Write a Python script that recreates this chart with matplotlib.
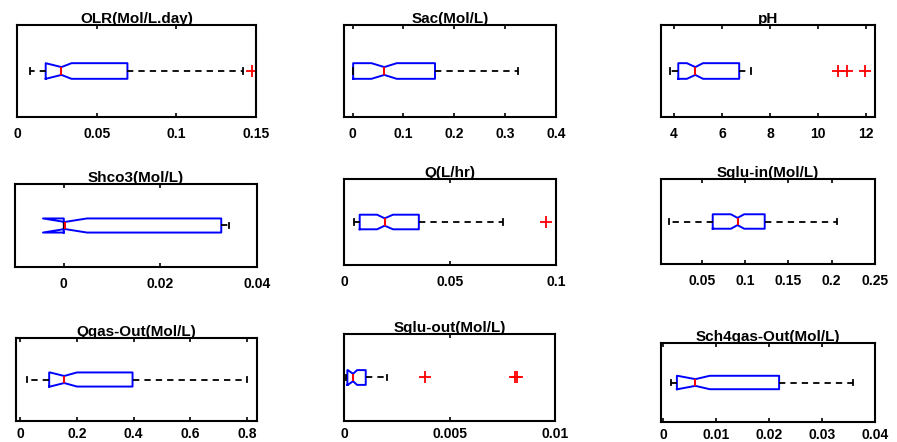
import numpy as np
import matplotlib
matplotlib.use("Agg")
from matplotlib import pyplot as plt

plt.rcParams["font.family"] = ["Liberation Sans", "DejaVu Sans"]
plt.rcParams["font.weight"] = "bold"

# panel titles
titles = ["OLR(Mol/L.day)", "Sac(Mol/L)", "pH",
          "Shco3(Mol/L)", "Q(L/hr)", "Sglu-in(Mol/L)",
          "Qgas-Out(Mol/L)", "Sglu-out(Mol/L)", "Sch4gas-Out(Mol/L)"]

# box statistics
whislo = [0.008, 0.0,   3.83, 0.0,     0.0047, 0.0125, 0.0235, 0.00008, 0.0014]
q1     = [0.018, 0.001, 4.18, 0.0,     0.0074, 0.0627, 0.102,  0.00016, 0.0026]
cilo   = [0.018, 0.037, 4.54, -0.0043, 0.0156, 0.0837, 0.105,  0.00018, 0.0027]
med    = [0.0279, 0.0623, 4.89, 0.0002, 0.0192, 0.0913, 0.155, 0.00043, 0.0061]
cihi   = [0.0342, 0.0866, 5.21, 0.0048, 0.0231, 0.099,  0.2,   0.00062, 0.0088]
q3     = [0.0693, 0.162, 6.72, 0.0326, 0.0353, 0.1227, 0.396,  0.00103, 0.0219]
whishi = [0.142, 0.326,  7.23, 0.0341, 0.0751, 0.206,  0.798,  0.00204, 0.0359]
fliers = [[0.1477], [], [10.83, 11.2, 11.97], [], [0.0951], [], [],
          [0.00385, 0.0081, 0.0082], []]

# axis ranges and ticks
xlims = [(0, 0.15), (-0.017, 0.4), (3.46, 12.38),
         (-0.0101, 0.04), (0, 0.1), (0.003, 0.25),
         (-0.015, 0.835), (0, 0.01), (-0.0004, 0.04)]
xticks = [[0, 0.05, 0.1, 0.15], [0, 0.1, 0.2, 0.3, 0.4], [4, 6, 8, 10, 12],
          [0, 0.02, 0.04], [0, 0.05, 0.1], [0.05, 0.1, 0.15, 0.2, 0.25],
          [0, 0.2, 0.4, 0.6, 0.8], [0, 0.005, 0.01], [0, 0.01, 0.02, 0.03, 0.04]]
xticklabels = [["0", "0.05", "0.1", "0.15"], ["0", "0.1", "0.2", "0.3", "0.4"],
               ["4", "6", "8", "10", "12"], ["0", "0.02", "0.04"],
               ["0", "0.05", "0.1"], ["0.05", "0.1", "0.15", "0.2", "0.25"],
               ["0", "0.2", "0.4", "0.6", "0.8"], ["0", "0.005", "0.01"],
               ["0", "0.01", "0.02", "0.03", "0.04"]]

# axes boxes in pixels: left, top, right, bottom
W, H = 897, 442
boxes_px = [(17, 25, 256, 117), (344, 25, 556, 117), (661, 25, 875, 117),
            (15, 184, 257, 267), (344, 179, 556, 265), (661, 179, 875, 264),
            (16, 338, 257, 421), (344, 334, 555, 421), (661, 343, 875, 422)]

fig = plt.figure(figsize=(W / 100, H / 100), dpi=100)

for i in range(9):
    l, t, r, b = boxes_px[i]
    ax = fig.add_axes([l / W, 1 - b / H, (r - l) / W, (b - t) / H])
    stats = [dict(whislo=whislo[i], q1=q1[i], cilo=cilo[i], med=med[i],
                  cihi=cihi[i], q3=q3[i], whishi=whishi[i],
                  fliers=np.array(fliers[i]))]
    ax.bxp(stats, positions=[1], widths=0.17, capwidths=0.06,
           orientation="horizontal", shownotches=True, showfliers=True,
           boxprops=dict(color="blue", lw=1.4),
           medianprops=dict(color="red", lw=1.5),
           whiskerprops=dict(color="black", lw=1.3, ls=(0, (3.5, 2.8))),
           capprops=dict(color="black", lw=1.3),
           flierprops=dict(marker="+", markeredgecolor="red",
                           markersize=9, mew=1.3, ls="none"))
    ax.set_ylim(0.5, 1.5)
    ax.set_yticks([])
    ax.set_xlim(*xlims[i])
    ax.set_xticks(xticks[i])
    ax.set_xticklabels(xticklabels[i], fontsize=10, fontweight="bold")
    pad = 4 if i >= 6 else 7
    ax.tick_params(axis="x", direction="in", top=True, length=3, width=1.2, pad=pad)
    for s in ax.spines.values():
        s.set_linewidth(1.5)
    ax.set_title(titles[i], fontsize=11, fontweight="bold", pad=1.5)

fig.savefig("out.png", dpi=100)
